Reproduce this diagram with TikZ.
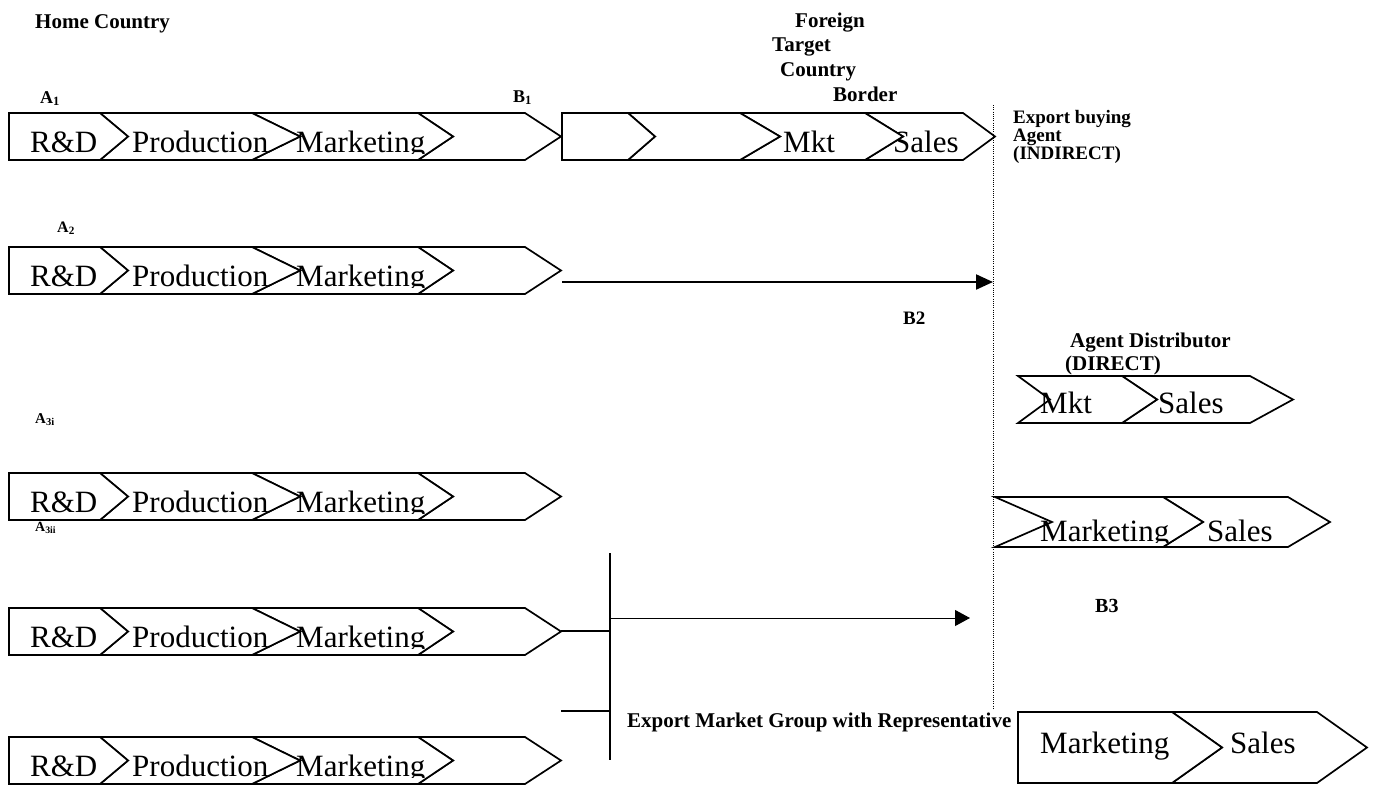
\documentclass[tikz,border=0pt]{standalone}
\usepackage{fontspec}
\setmainfont{Liberation Serif}
\usetikzlibrary{arrows.meta}

\newcommand{\chevfont}{\fontsize{31}{31}\selectfont}
\newcommand{\lblfont}{\fontsize{21}{21}\selectfont\bfseries}
% one chevron: left, notch, shoulder, tip, top, bottom
\newcommand{\chevpath}[6]{%
  \draw[chev] (#1,#5) -- (#3,#5) -- (#4,{(#5+#6)/2}) -- (#3,#6) -- (#1,#6) -- (#2,{(#5+#6)/2}) -- cycle;}
% text cut off just under its baseline
\newcommand{\cuttext}[4]{%
  \begin{scope}
    \clip ({#2-10},{#3-40}) rectangle ({#2+220},{#3+1});
    \node[chevtext] (#1) at (#2,#3) {#4};
  \end{scope}}
% R&D > Production > Marketing > (empty)
\newcommand{\homechain}[2]{%
  \chevpath{418}{453}{525}{561}{#2}{#2+47}
  \chevpath{252}{300}{418}{453}{#2}{#2+47}
  \chevpath{100}{128}{252}{300}{#2}{#2+47}
  \chevpath{9}{9}{100}{128}{#2}{#2+47}
  \cuttext{#1rd}{30}{#2+39}{R\&D}
  \cuttext{#1prod}{132}{#2+39}{Production}
  \cuttext{#1mkt}{296}{#2+39}{Marketing}}

\begin{document}
\begin{tikzpicture}[x=1pt, y=-1pt,
  chev/.style={draw, line width=1.7pt, fill=white, line join=miter},
  chevtext/.style={anchor=base west, inner sep=0pt, font=\chevfont},
  lbl/.style={anchor=base west, inner sep=0pt, font=\lblfont},
  small/.style={anchor=base west, inner sep=0pt, font=\fontsize{#1}{#1}\selectfont\bfseries}]
\useasboundingbox (0,0) rectangle (1374,785);

% labels
\node[lbl] (home) at (35,28) {Home Country};
\node[lbl] (foreign) at (795,27) {Foreign};
\node[lbl] (target) at (772,51) {Target};
\node[lbl] (country) at (780,76) {Country};
\node[lbl] (border) at (833,101) {Border};
\node[small=18] (a1) at (40,103) {A\textsubscript{1}};
\node[small=18] (b1) at (513,102) {B\textsubscript{1}};
\node[small=16] (a2) at (57,232) {A\textsubscript{2}};
\node[small=15] (a3i) at (35,423) {A\textsubscript{3i}};
\node[small=14] (a3ii) at (35,531) {A\textsubscript{3ii}};
\node[small=19] (b2) at (903,324) {B2};
\node[small=20] (b3) at (1095,612) {B3};
\node[small=19] (eb1) at (1013,123) {Export buying};
\node[small=19] (eb2) at (1013,141) {Agent};
\node[small=19] (eb3) at (1013,159) {(INDIRECT)};
\node[lbl] (ad1) at (1070,347) {Agent Distributor};
\node[lbl] (ad2) at (1065,370) {(DIRECT)};
\node[lbl] (emg) at (627,727) {Export Market Group with Representative};

% home country chains
\homechain{ra}{113}
\homechain{rb}{247}
\homechain{rc}{473}
\homechain{rd}{608}
\homechain{re}{737}

% foreign chain of row 1
\chevpath{865}{903}{963}{995}{113}{160}
\node[chevtext] (fsales) at (893,152) {Sales};
\chevpath{740}{780}{865}{903}{113}{160}
\node[chevtext] (fmkt) at (783,152) {Mkt};
\chevpath{628}{655}{740}{780}{113}{160}
\chevpath{562}{562}{628}{655}{113}{160}

% agent distributor
\chevpath{1122}{1157}{1250}{1293}{376}{423}
\node[chevtext] (dsales) at (1158,413) {Sales};
\chevpath{1018}{1050}{1122}{1157}{376}{423}
\node[chevtext] (dmkt) at (1040,413) {Mkt};

\chevpath{1163}{1203}{1288}{1330}{497}{547}
\node[chevtext] (lsales) at (1207,541) {Sales};
\chevpath{995}{1052}{1163}{1203}{497}{547}
\cuttext{lmkt}{1040}{541}{Marketing}

% export market group
\chevpath{1172}{1222}{1317}{1367}{712}{783}
\chevpath{1018}{1018}{1172}{1222}{712}{783}
\node[chevtext] (gmkt) at (1040,753) {Marketing};
\node[chevtext] (gsales) at (1230,753) {Sales};

% border and connectors
\coordinate (bordtop) at (993,105);
\coordinate (bordbot) at (993,710);
\draw[line width=1pt, dash pattern=on 1pt off 1.2pt] (bordtop) -- (bordbot);

\coordinate (b2out) at (562,282);
\coordinate (b2in) at (993,282);
\draw[line width=2.2pt, -{Triangle[length=17pt,width=15pt]}] (b2out) -- (b2in);

\coordinate (bartop) at (610,553);
\coordinate (barbot) at (610,760);
\coordinate (rdtip) at (561,631);
\coordinate (stub) at (561,711);
\coordinate (b3from) at (610,618);
\coordinate (b3to) at (970,618);
\draw[line width=2pt] (bartop) -- (barbot);
\draw[line width=2pt] (rdtip) -- (rdtip -| bartop);
\draw[line width=2pt] (stub) -- (stub -| bartop);
\draw[line width=1pt, -{Triangle[length=15pt,width=16pt]}] (b3from) -- (b3to);
\end{tikzpicture}
\end{document}
